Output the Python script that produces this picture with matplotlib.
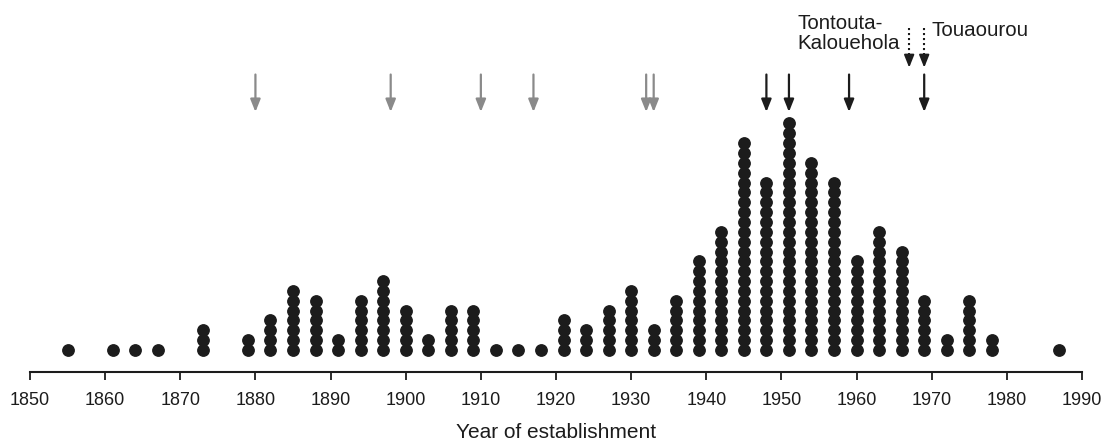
import matplotlib
matplotlib.use("Agg")
import matplotlib.pyplot as plt

plt.rcParams["font.family"] = ["Liberation Sans", "DejaVu Sans"]

# establishment years (dot columns) and number of sites per column
years = [1855, 1861, 1864, 1867, 1873, 1879, 1882, 1885, 1888, 1891, 1894,
         1897, 1900, 1903, 1906, 1909, 1912, 1915, 1918, 1921, 1924, 1927,
         1930, 1933, 1936, 1939, 1942, 1945, 1948, 1951, 1954, 1957, 1960,
         1963, 1966, 1969, 1972, 1975, 1978, 1987]
counts = [1, 1, 1, 1, 3, 2, 4, 7, 6, 2, 6,
          8, 5, 2, 5, 5, 1, 1, 1, 4, 3, 5,
          7, 3, 6, 10, 13, 22, 18, 24, 20, 18, 10,
          13, 11, 6, 2, 6, 2, 1]

gray_arrows = [1880, 1898, 1910, 1917, 1932, 1933]
black_arrows = [1948, 1951, 1959, 1969]
dotted_arrows = [1967, 1969]
xticks = list(range(1850, 1991, 10))

DOT = "#1c1c1c"
GRAY = "#8a8a8a"
BLACK = "#1c1c1c"

fig = plt.figure(figsize=(11.06, 4.45), dpi=100)
ax = fig.add_axes([30 / 1106, 73 / 445, 1052 / 1106, 372 / 445])

# stacked dots, one unit per dot
for yr, n in zip(years, counts):
    ys = [2.23 + k for k in range(n)]
    ax.plot([yr] * n, ys, "o", ms=8.2, color=DOT, mec=DOT, lw=0, zorder=3)

# arrows
head = "-|>,head_length=0.75,head_width=0.3"
for yr in gray_arrows:
    ax.annotate("", xy=(yr, 26.4), xytext=(yr, 30.2),
                arrowprops=dict(arrowstyle=head, color=GRAY, lw=1.6,
                                shrinkA=0, shrinkB=0))
for yr in black_arrows:
    ax.annotate("", xy=(yr, 26.4), xytext=(yr, 30.2),
                arrowprops=dict(arrowstyle=head, color=BLACK, lw=1.6,
                                shrinkA=0, shrinkB=0))
for yr in dotted_arrows:
    ax.plot([yr, yr], [34.9, 31.8], color=BLACK, lw=1.5,
            linestyle=(0, (1.0, 1.4)), solid_capstyle="butt")
    ax.annotate("", xy=(yr, 30.9), xytext=(yr, 31.9),
                arrowprops=dict(arrowstyle=head, color=BLACK, lw=1.4,
                                shrinkA=0, shrinkB=0))

ax.text(1952.1, 34.4, "Tontouta-\nKalouehola", ha="left", va="center",
        fontsize=14.8, color="#1c1c1c", linespacing=1.05)
ax.text(1970.0, 34.7, "Touaourou", ha="left", va="center",
        fontsize=14.8, color="#1c1c1c")

ax.set_xlim(1850, 1990)
ax.set_ylim(0, 372 / 9.85)
ax.set_xticks(xticks)
ax.tick_params(axis="x", direction="out", length=5.5, width=1.3,
               color="#1c1c1c", labelsize=13, pad=9, labelcolor="#1c1c1c")
ax.set_yticks([])
for s in ["top", "right", "left"]:
    ax.spines[s].set_visible(False)
ax.spines["bottom"].set_linewidth(1.5)
ax.spines["bottom"].set_color("#1c1c1c")
ax.set_xlabel("Year of establishment", fontsize=15, color="#1c1c1c",
              labelpad=10)
ax.patch.set_alpha(0)

fig.savefig("out.png", dpi=100)
